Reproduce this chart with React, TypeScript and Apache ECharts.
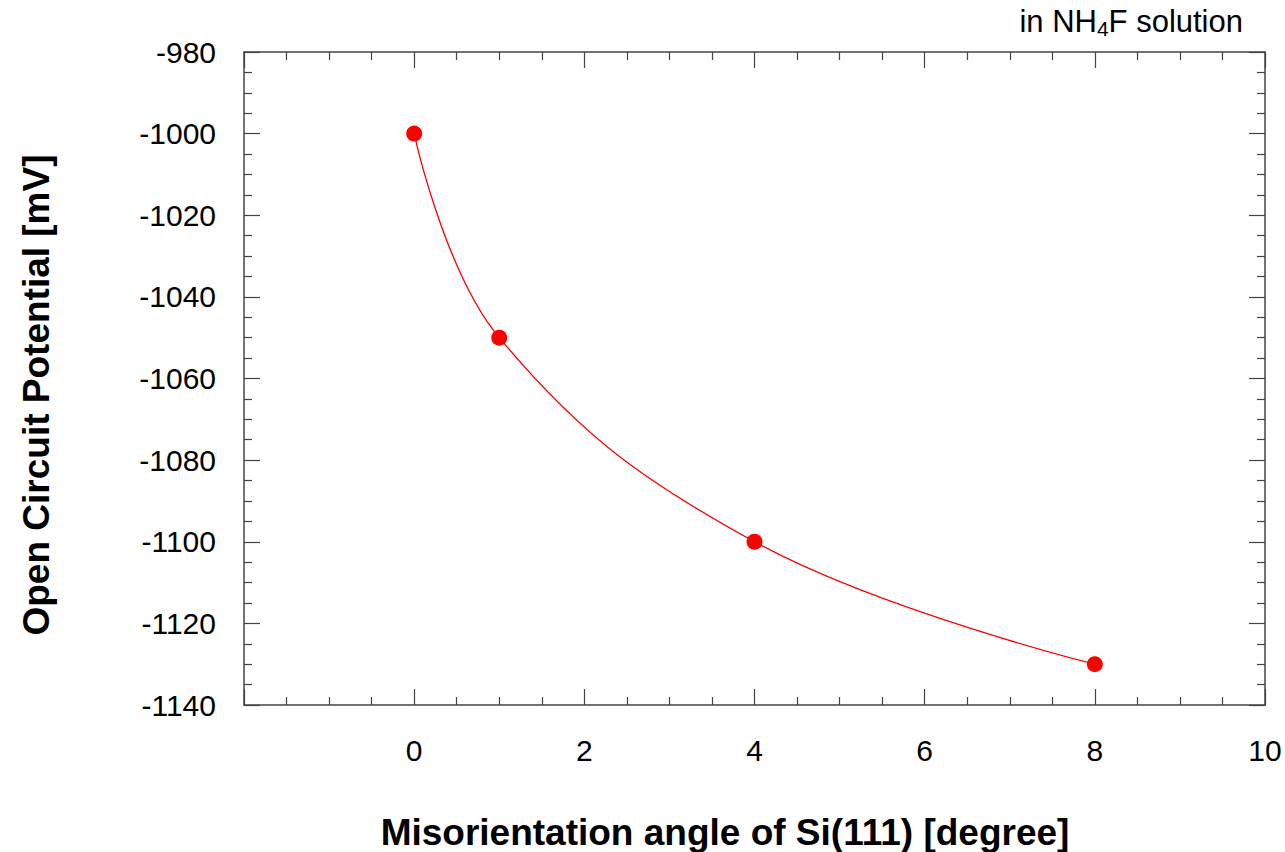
import React, { useEffect, useRef } from "react";
import * as echarts from "echarts";

// Misorientation angle of Si(111) [degree]
const angles = [0, 1, 4, 8];
// Open circuit potential [mV]
const potentials = [-1000, -1050, -1100, -1130];

const xTicks = { min: -2, max: 10, interval: 2 };
const yTicks = { min: -1140, max: -980, interval: 20 };

const xTitle = "Misorientation angle of Si(111) [degree]";
const yTitle = "Open Circuit Potential [mV]";

const AXIS_COLOR = "#444";
const FONT = "'Liberation Sans', Arial, sans-serif";

export default function App() {
  const ref = useRef<HTMLDivElement>(null);

  useEffect(() => {
    if (!ref.current) return;
    const chart = echarts.init(ref.current, undefined, { renderer: "svg" });
    const points = angles.map((a, i) => [a, potentials[i]]);

    const tickCommon = {
      axisLine: { show: true, onZero: false, lineStyle: { color: AXIS_COLOR, width: 1.5 } },
      axisTick: { show: true, inside: true, length: 16, lineStyle: { color: AXIS_COLOR, width: 1.2 } },
      minorTick: { show: true, splitNumber: 4, length: 8, lineStyle: { color: AXIS_COLOR, width: 1.2 } },
      splitLine: { show: false },
      minorSplitLine: { show: false },
    };

    const labelStyle = { fontFamily: FONT, fontSize: 30, color: "#000" };
    const nameStyle = { fontFamily: FONT, fontSize: 37, fontWeight: "bold", fill: "#000" };

    chart.setOption({
      animation: false,
      backgroundColor: "#fff",
      textStyle: { fontFamily: FONT },
      grid: { left: 244, right: 20, top: 52, bottom: 147, containLabel: false },
      title: {
        text: "{a|in NH}{s|4}{a|F solution}",
        right: 42,
        top: 3,
        padding: 0,
        textStyle: {
          rich: {
            a: { fontFamily: FONT, fontSize: 31, fontWeight: "normal", color: "#000", lineHeight: 36, verticalAlign: "middle" },
            s: { fontFamily: FONT, fontSize: 21, fontWeight: "normal", color: "#000", lineHeight: 36, verticalAlign: "middle", padding: [15, 0, 0, 0] },
          },
        },
      },
      graphic: [
        {
          type: "text",
          x: 725,
          y: 832,
          style: { ...nameStyle, text: xTitle, textAlign: "center", textVerticalAlign: "middle" },
        },
        {
          type: "text",
          x: 36,
          y: 395,
          rotation: Math.PI / 2,
          style: { ...nameStyle, text: yTitle, textAlign: "center", textVerticalAlign: "middle" },
        },
      ],
      xAxis: [
        {
          type: "value",
          position: "bottom",
          ...xTicks,
          ...tickCommon,
          axisLabel: {
            ...labelStyle,
            margin: 30,
            formatter: (v: number) => (v < 0 ? "" : String(v)),
          },
        },
        {
          type: "value",
          position: "top",
          ...xTicks,
          ...tickCommon,
          axisLabel: { show: false },
        },
      ],
      yAxis: [
        {
          type: "value",
          position: "left",
          ...yTicks,
          ...tickCommon,
          axisLabel: { ...labelStyle, margin: 28, formatter: (v: number) => String(v) },
        },
        {
          type: "value",
          position: "right",
          ...yTicks,
          ...tickCommon,
          axisLabel: { show: false },
        },
      ],
      series: [
        {
          type: "line",
          data: points,
          smooth: 0.4,
          symbol: "circle",
          symbolSize: 16,
          itemStyle: { color: "#ff0000" },
          lineStyle: { color: "#ff0000", width: 1.3 },
        },
      ],
    });

    return () => chart.dispose();
  }, []);

  return (
    <div
      ref={ref}
      style={{ position: "fixed", left: 0, top: 0, width: 1285, height: 852 }}
    />
  );
}
